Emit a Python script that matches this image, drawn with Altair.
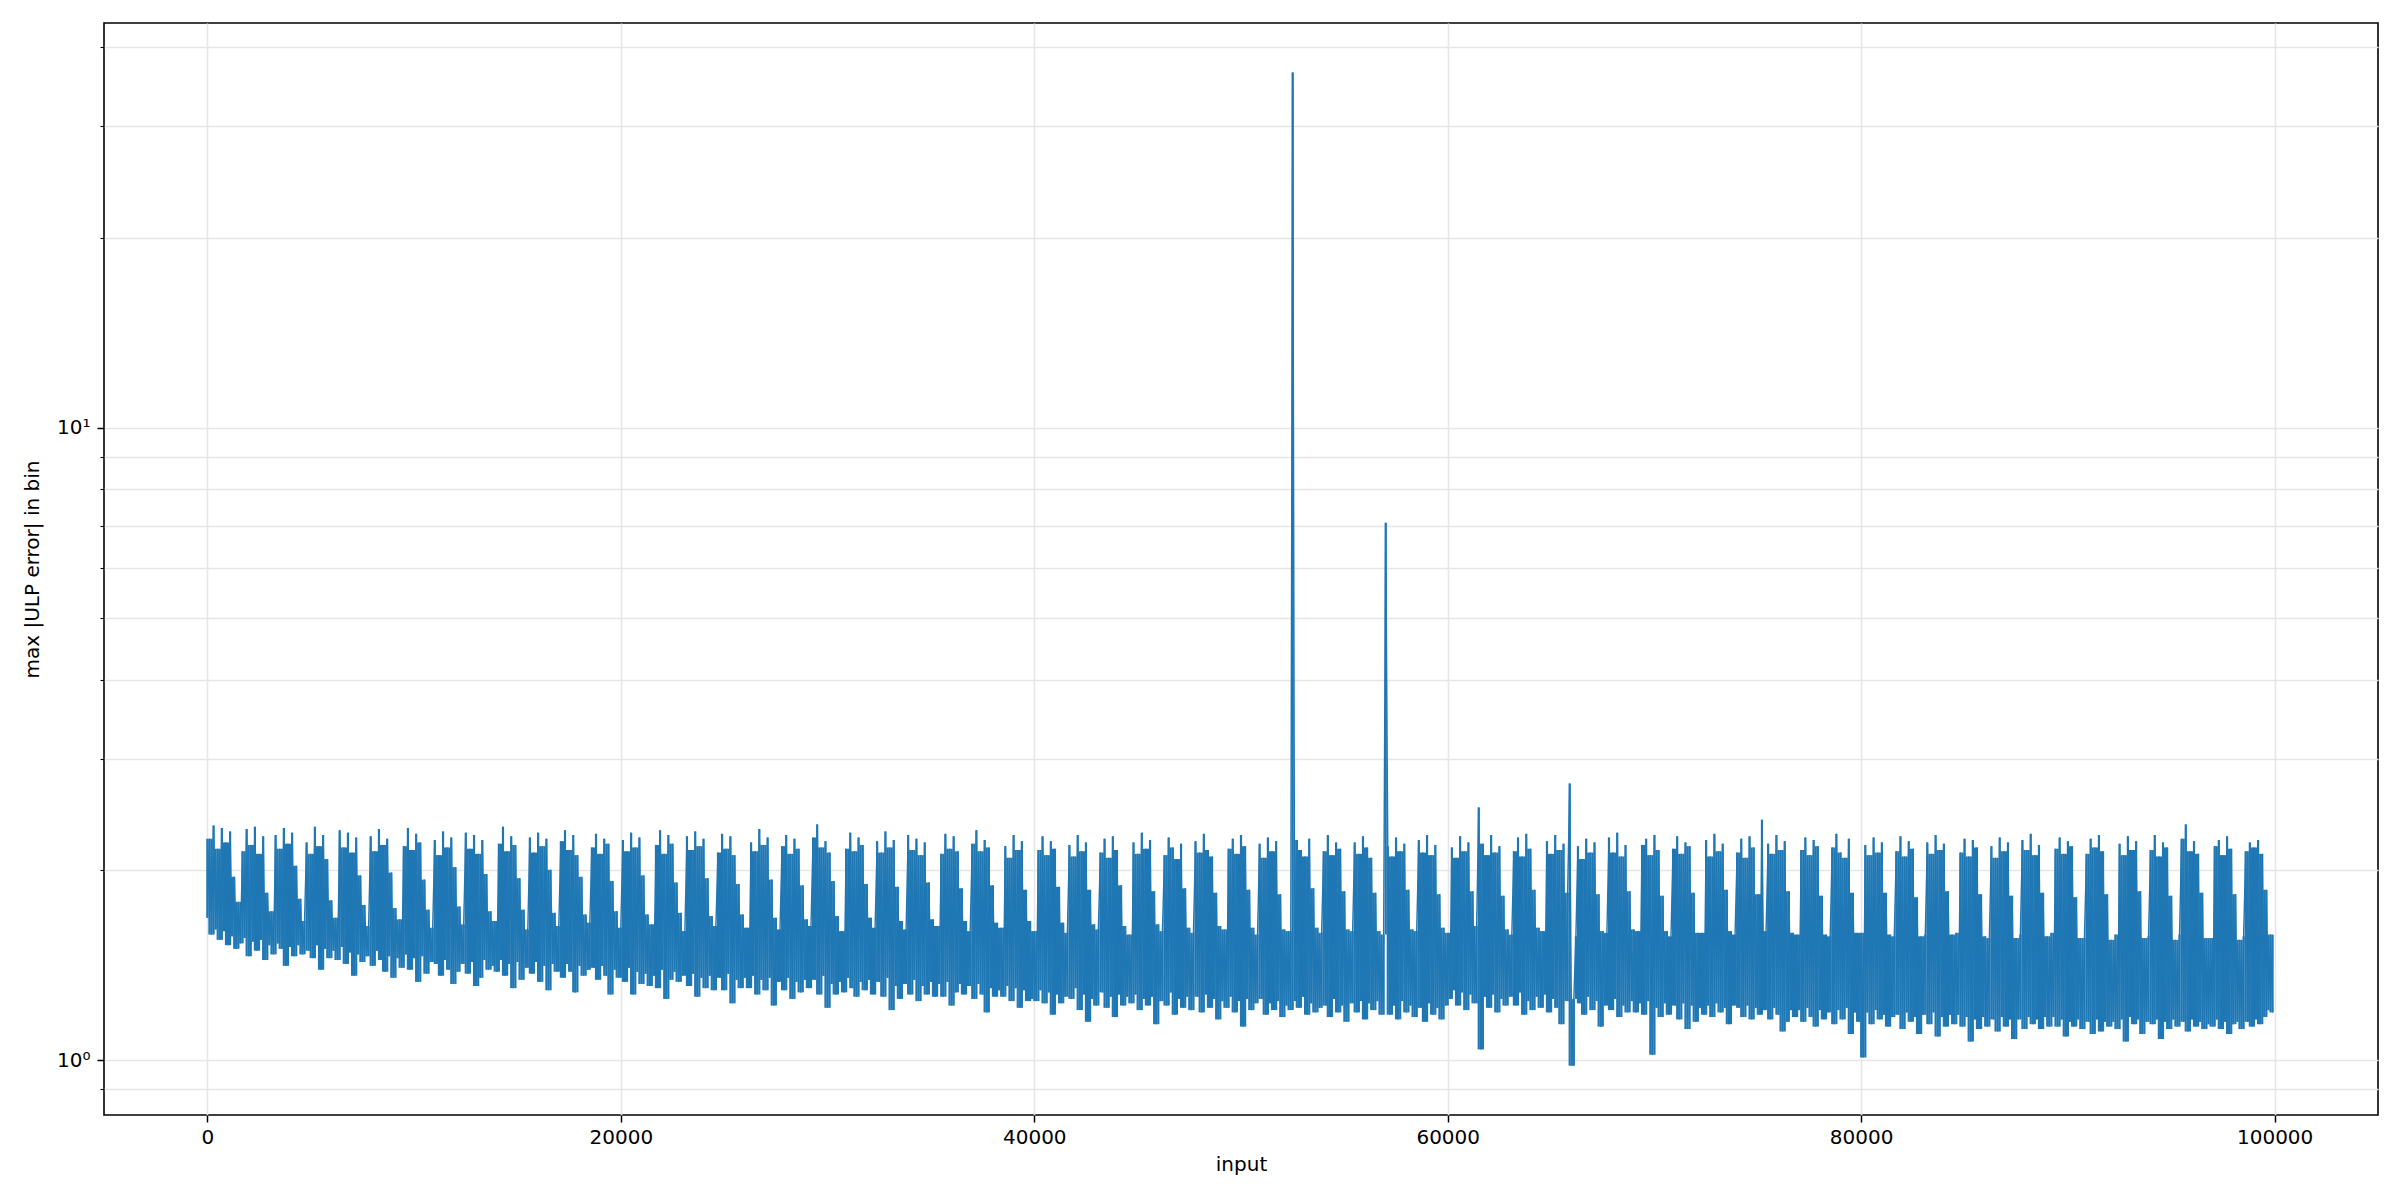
import altair as alt
import pandas as pd

# max |ULP error| per bin of 100 inputs in five stretches of 20000 inputs
seg_0_20k = [
    1.68, 2.24, 1.58, 2.35, 1.61, 2.16, 1.55, 2.33, 1.60, 2.21, 1.52, 2.30, 1.57, 1.95, 1.50, 1.78,
    1.53, 2.14, 1.56, 2.32, 1.46, 2.19, 1.54, 2.34, 1.49, 2.12, 1.55, 2.26, 1.44, 1.84, 1.52,
    1.72, 1.47, 2.27, 1.53, 2.16, 1.50, 2.33, 1.41, 2.20, 1.51, 2.29, 1.46, 2.03, 1.52, 1.80, 1.47,
    1.66, 2.21, 1.49, 2.12, 1.45, 2.34, 1.52, 2.18, 1.39, 2.27, 1.50, 2.08, 1.45, 1.79, 1.49,
    1.68, 1.44, 2.31, 1.51, 2.17, 1.42, 2.29, 1.48, 2.13, 1.36, 2.25, 1.47, 1.96, 1.43, 1.76, 1.46,
    1.63, 2.26, 1.41, 2.14, 1.49, 2.32, 1.44, 2.19, 1.38, 2.24, 1.46, 1.98, 1.35, 1.74, 1.45,
    1.67, 1.40, 2.18, 1.47, 2.33, 1.39, 2.15, 1.45, 2.28, 1.33, 2.21, 1.46, 1.93, 1.37, 1.73, 1.43,
    1.62, 2.23, 1.42, 2.11, 1.36, 2.30, 1.44, 2.17, 1.39, 2.25, 1.32, 2.02, 1.38, 1.75, 1.42,
    1.64, 2.29, 1.37, 2.16, 1.43, 2.27, 1.31, 2.12, 1.35, 2.23, 1.44, 1.97, 1.39, 1.72, 1.41,
    1.66, 1.38, 2.20, 1.44, 2.34, 1.36, 2.14, 1.42, 2.26, 1.30, 2.19, 1.43, 1.94, 1.34, 1.73, 1.40,
    1.61, 2.25, 1.37, 2.13, 1.43, 2.29, 1.33, 2.18, 1.41, 2.24, 1.29, 2.00, 1.42, 1.71, 1.38,
    1.63, 2.22, 1.35, 2.31, 1.42, 2.15, 1.38, 2.27, 1.28, 2.11, 1.41, 1.95, 1.36, 1.70, 1.39,
    1.65, 2.17, 1.40, 2.28, 1.34, 2.12, 1.41, 2.24, 1.36, 2.20, 1.27, 1.92, 1.39, 1.72, 1.35,
]
seg_20k_40k = [
    1.62, 2.23, 1.33, 2.14, 1.40, 2.29, 1.27, 2.17, 1.38, 2.25, 1.32, 1.96, 1.37, 1.70, 1.31,
    1.64, 1.36, 2.19, 1.30, 2.31, 1.39, 2.12, 1.25, 2.27, 1.34, 2.20, 1.38, 1.91, 1.33, 1.71, 1.36,
    1.60, 2.26, 1.31, 2.15, 1.37, 2.30, 1.26, 2.18, 1.35, 2.24, 1.30, 1.94, 1.36, 1.69, 1.29,
    1.63, 2.13, 1.35, 2.28, 1.29, 2.16, 1.37, 2.26, 1.23, 2.11, 1.34, 1.90, 1.30, 1.70, 1.35,
    1.62, 1.30, 2.21, 1.36, 2.14, 1.27, 2.32, 1.34, 2.19, 1.29, 2.25, 1.35, 1.93, 1.22, 1.68, 1.33,
    1.61, 2.18, 1.29, 2.27, 1.35, 2.12, 1.25, 2.24, 1.33, 2.16, 1.28, 1.89, 1.34, 1.67, 1.30,
    1.63, 2.25, 1.34, 2.36, 1.27, 2.17, 1.36, 2.22, 1.21, 2.13, 1.32, 1.92, 1.27, 1.69, 1.33,
    1.60, 1.28, 2.16, 1.35, 2.29, 1.30, 2.14, 1.26, 2.25, 1.33, 2.19, 1.29, 1.90, 1.34, 1.68, 1.27,
    1.62, 2.22, 1.33, 2.13, 1.26, 2.30, 1.35, 2.17, 1.20, 2.23, 1.31, 1.88, 1.25, 1.66, 1.32,
    1.61, 2.27, 1.27, 2.15, 1.34, 2.24, 1.24, 2.11, 1.31, 2.21, 1.27, 1.91, 1.33, 1.67, 1.26,
    1.63, 1.32, 2.12, 1.26, 2.28, 1.33, 2.16, 1.22, 2.26, 1.28, 2.14, 1.32, 1.87, 1.27, 1.66, 1.31,
    1.60, 2.20, 1.25, 2.31, 1.32, 2.14, 1.27, 2.23, 1.19, 2.17, 1.30, 1.89, 1.26, 1.65, 1.29,
    1.62, 1.26, 2.18, 1.31, 2.09, 1.24, 2.27, 1.30, 2.15, 1.21, 2.22, 1.29, 1.86, 1.24, 1.66, 1.25,
]
seg_40k_60k = [
    1.60, 1.24, 2.15, 1.29, 2.26, 1.23, 2.11, 1.28, 2.22, 1.18, 2.16, 1.27, 1.88, 1.23, 1.65, 1.26,
    1.59, 2.19, 1.25, 2.10, 1.30, 2.27, 1.20, 2.14, 1.27, 2.21, 1.15, 1.86, 1.25, 1.64, 1.22,
    1.61, 2.13, 1.28, 2.24, 1.21, 2.09, 1.26, 2.26, 1.17, 2.15, 1.27, 1.89, 1.22, 1.63, 1.26,
    1.58, 1.23, 2.21, 1.27, 2.12, 1.20, 2.29, 1.25, 2.16, 1.22, 2.23, 1.26, 1.85, 1.14, 1.64, 1.24,
    1.60, 2.11, 1.22, 2.25, 1.28, 2.17, 1.18, 2.08, 1.25, 2.20, 1.21, 1.87, 1.26, 1.62, 1.20,
    1.59, 2.22, 1.26, 2.13, 1.19, 2.28, 1.27, 2.15, 1.21, 2.10, 1.25, 1.84, 1.16, 1.63, 1.24,
    1.61, 1.21, 2.16, 1.26, 2.24, 1.19, 2.12, 1.24, 2.27, 1.13, 2.18, 1.25, 1.86, 1.20, 1.62, 1.23,
    1.58, 2.20, 1.25, 2.09, 1.18, 2.25, 1.23, 2.14, 1.20, 2.22, 1.24, 1.83, 1.17, 1.61, 1.22,
    1.60, 1.20, 36.5, 1.24, 2.23, 1.21, 2.15, 1.26, 2.10, 1.18, 2.24, 1.23, 1.87, 1.19, 1.62, 1.21,
    1.59, 2.14, 1.22, 2.27, 1.17, 2.11, 1.25, 2.21, 1.19, 2.16, 1.22, 1.85, 1.15, 1.61, 1.23,
    1.60, 2.21, 1.19, 2.12, 1.24, 2.26, 1.16, 2.17, 1.23, 2.09, 1.20, 1.84, 1.24, 1.60, 1.18,
    1.58, 7.08, 2.18, 1.18, 2.10, 1.22, 2.25, 1.16, 2.14, 1.24, 2.20, 1.19, 1.86, 1.22, 1.61, 1.17,
    1.60, 2.23, 1.21, 2.13, 1.15, 2.27, 1.23, 2.11, 1.18, 2.19, 1.21, 1.83, 1.16, 1.62, 1.22,
]
seg_60k_80k = [
    1.59, 1.25, 2.17, 1.29, 2.09, 1.22, 2.26, 1.28, 2.14, 1.20, 2.21, 1.27, 1.85, 1.23, 1.63, 2.51,
    1.04, 2.20, 1.26, 2.11, 1.21, 2.27, 1.27, 2.13, 1.19, 2.18, 1.25, 1.82, 1.22, 1.61, 1.26,
    1.58, 2.14, 1.22, 2.25, 1.28, 2.10, 1.18, 2.28, 1.24, 2.16, 1.20, 1.86, 1.26, 1.62, 1.21,
    1.60, 1.27, 2.22, 1.19, 2.12, 1.25, 2.27, 1.21, 2.15, 1.14, 2.20, 1.24, 1.84, 2.74, 0.98, 1.25,
    1.57, 2.18, 1.23, 2.08, 1.18, 2.24, 1.26, 2.13, 1.20, 2.21, 1.24, 1.83, 1.13, 1.60, 1.22,
    1.59, 2.25, 1.20, 2.13, 1.25, 2.29, 1.17, 2.10, 1.22, 2.19, 1.19, 1.85, 1.24, 1.61, 1.19,
    1.60, 1.23, 2.19, 1.18, 2.24, 1.24, 2.11, 1.02, 2.27, 1.21, 2.15, 1.17, 1.82, 1.23, 1.60, 1.18,
    1.57, 2.16, 1.22, 2.26, 1.16, 2.12, 1.23, 2.21, 1.12, 2.18, 1.22, 1.84, 1.15, 1.59, 1.21,
    1.59, 1.18, 2.23, 1.22, 2.10, 1.17, 2.28, 1.23, 2.14, 1.19, 2.20, 1.21, 1.86, 1.14, 1.60, 1.22,
    1.58, 2.13, 1.21, 2.24, 1.17, 2.09, 1.22, 2.26, 1.16, 2.17, 1.21, 1.83, 1.18, 2.40, 1.20,
    1.60, 2.20, 1.16, 2.12, 1.21, 2.27, 1.18, 2.15, 1.11, 2.22, 1.15, 1.85, 1.20, 1.59, 1.17,
    1.58, 1.20, 2.15, 1.15, 2.25, 1.21, 2.11, 1.17, 2.23, 1.13, 2.18, 1.20, 1.82, 1.16, 1.58, 1.19,
    1.57, 2.17, 1.14, 2.28, 1.20, 2.13, 1.16, 2.09, 1.21, 2.24, 1.10, 1.84, 1.19, 1.59, 1.15,
]
seg_80k_100k = [
    1.59, 1.01, 2.19, 1.19, 2.11, 1.14, 2.25, 1.20, 2.13, 1.16, 2.21, 1.18, 1.84, 1.13, 1.58, 1.17,
    1.57, 2.14, 1.18, 2.26, 1.12, 2.10, 1.19, 2.22, 1.15, 2.16, 1.17, 1.81, 1.10, 1.57, 1.18,
    1.58, 2.21, 1.14, 2.12, 1.19, 2.27, 1.09, 2.15, 1.17, 2.20, 1.13, 1.85, 1.18, 1.58, 1.14,
    1.59, 1.18, 2.13, 1.13, 2.24, 1.17, 2.10, 1.07, 2.23, 1.16, 2.17, 1.12, 1.83, 1.17, 1.57, 1.13,
    1.56, 2.18, 1.16, 2.09, 1.11, 2.25, 1.17, 2.14, 1.13, 2.21, 1.16, 1.82, 1.08, 1.56, 1.16,
    1.58, 2.23, 1.12, 2.15, 1.17, 2.28, 1.14, 2.11, 1.16, 2.19, 1.12, 1.84, 1.17, 1.57, 1.13,
    1.59, 1.17, 2.16, 1.13, 2.25, 1.16, 2.12, 1.09, 2.22, 1.15, 2.18, 1.13, 1.81, 1.16, 1.56, 1.12,
    1.56, 2.12, 1.15, 2.24, 1.10, 2.17, 1.16, 2.27, 1.11, 2.14, 1.15, 1.83, 1.13, 1.55, 1.15,
    1.58, 1.12, 2.20, 1.16, 2.11, 1.07, 2.26, 1.17, 2.15, 1.14, 2.22, 1.16, 1.85, 1.10, 1.56, 1.15,
    1.57, 2.15, 1.14, 2.27, 1.16, 2.10, 1.08, 2.21, 1.15, 2.17, 1.12, 1.82, 1.16, 1.55, 1.13,
    1.58, 2.24, 1.15, 2.36, 1.11, 2.14, 1.16, 2.22, 1.13, 2.12, 1.15, 1.84, 1.12, 1.56, 1.14,
    1.56, 1.13, 2.18, 1.16, 2.23, 1.12, 2.11, 1.15, 2.26, 1.10, 2.16, 1.14, 1.83, 1.15, 1.55, 1.12,
    1.57, 2.14, 1.15, 2.21, 1.13, 2.17, 1.16, 2.23, 1.14, 2.12, 1.17, 1.86, 1.20, 1.58, 1.19,
]

bin_width = 100
x_ticks = [0, 20000, 40000, 60000, 80000, 100000]
y_ticks = [0.9, 1, 2, 3, 4, 5, 6, 7, 8, 9, 10, 20, 30, 40]

values = seg_0_20k + seg_20k_40k + seg_40k_60k + seg_60k_80k + seg_80k_100k
df = pd.DataFrame({"input": [i * bin_width for i in range(len(values))], "err": values})

FONT = "DejaVu Sans"
BLUE = "#1f77b4"
MAJOR = "datum.value == 1 || datum.value == 10"

x_enc = alt.X(
    "input:Q",
    scale=alt.Scale(domain=[-5000, 105000], nice=False, zero=False),
    axis=alt.Axis(
        values=x_ticks, format="d", title="input", grid=True,
        gridColor="#e6e6e6", gridWidth=1.6, domain=False,
        tickColor="#000", tickWidth=1.5, tickSize=7,
        labelFont=FONT, labelFontSize=20, labelColor="#000", labelPadding=5,
        labelFlush=False, titleFont=FONT, titleFontSize=20, titleFontWeight="normal",
        titleColor="#000", titlePadding=7,
    ),
)
y_enc = alt.Y(
    "err:Q",
    scale=alt.Scale(type="log", domain=[0.819, 43.7], nice=False),
    axis=alt.Axis(
        values=y_ticks, title="max |ULP error| in bin", grid=True,
        gridColor="#e6e6e6", gridWidth=1.6, domain=False,
        labelExpr="datum.value == 1 ? '10⁰' : datum.value == 10 ? '10¹' : ''",
        labelOverlap=False,
        tickColor="#000",
        tickWidth={"condition": {"test": MAJOR, "value": 1.5}, "value": 1.1},
        tickSize={"condition": {"test": MAJOR, "value": 7}, "value": 4},
        labelFont=FONT, labelFontSize=20, labelColor="#000", labelPadding=7,
        titleFont=FONT, titleFontSize=20, titleFontWeight="normal",
        titleColor="#000", titlePadding=14,
    ),
)

base = alt.Chart(df).encode(x=x_enc, y=y_enc)

# each bin's stroke of the dense line: from its value to the nearer-in-height side of its neighbours
strokes = base.transform_window(
    prev="lag(err)", nxt="lead(err)"
).transform_calculate(
    other="datum.prev == null ? datum.nxt : (datum.nxt == null ? datum.prev : min(datum.prev, datum.nxt))"
).mark_rule(color=BLUE, strokeWidth=2.2).encode(y2="other:Q")

line = base.mark_line(color=BLUE, strokeWidth=1.4)

chart = alt.layer(strokes, line).properties(
    width=2274,
    height=1092,
    padding={"left": 96, "top": 15, "right": 14, "bottom": 77},
    autosize=alt.AutoSizeParams(type="none"),
).configure(background="white").configure_view(stroke="#000", strokeWidth=1.6)

chart.save("out.html", embed_options={"renderer": "svg", "actions": False})
